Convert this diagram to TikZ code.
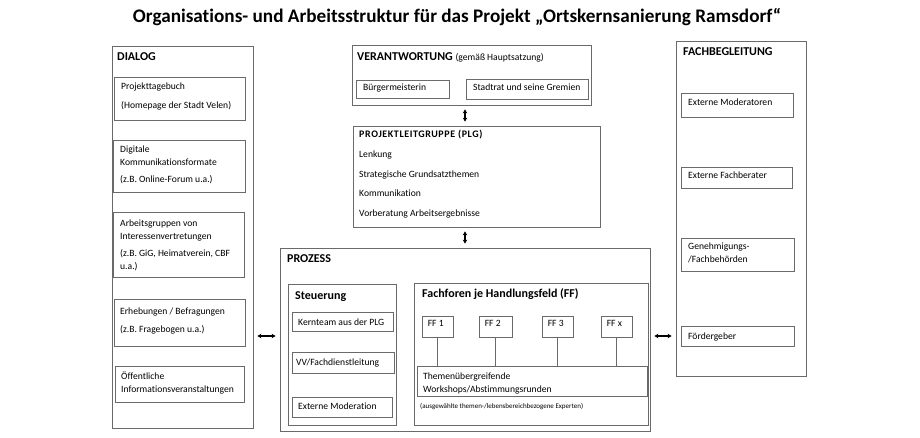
\documentclass[tikz,border=0pt]{standalone}
\usepackage{fontspec}
\setmainfont{Carlito}[Ligatures=NoCommon]
\usetikzlibrary{fit,arrows.meta}

\definecolor{boxgray}{HTML}{6A6A6A}

% mehrzeiliger Text, Grundlinie = erste Zeile
\newcommand{\zeilen}[1]{\begin{tabular}[t]{@{}l@{}}#1\end{tabular}}

\tikzset{
  box/.style={draw=boxgray, line width=0.8pt, inner sep=0pt},
  lbl/.style={anchor=base west, inner sep=0pt, font=\fontsize{9.6}{13}\selectfont},
  head/.style={anchor=base west, inner sep=0pt, font=\fontsize{12}{14}\selectfont\bfseries},
  link/.style={draw=boxgray, line width=0.8pt},
  dbl/.style={{Stealth[length=4pt,width=4.5pt]}-{Stealth[length=4pt,width=4.5pt]}, line width=1.6pt, shorten <=4pt, shorten >=4pt},
}

\begin{document}
\begin{tikzpicture}[x=1pt, y=-1pt]
  \useasboundingbox (0,0) rectangle (920,438);

  % Titel
  \node[font=\fontsize{19.2}{22}\selectfont\bfseries] (titel) at (457,17)
    {Organisations- und Arbeitsstruktur für das Projekt „Ortskernsanierung Ramsdorf“};

  % DIALOG
  \node[box, fit={(112,46) (253,428)}] (dialog) {};
  \node[head] (dialogT) at (117,61) {DIALOG};
  \node[box, fit={(114,77) (245,120)}] (tb) {};
  \node[lbl] (tbT) at (121,90) {\zeilen{Projekttagebuch\\[6pt](Homepage der Stadt Velen)}};
  \node[box, fit={(113,140) (245,192)}] (dk) {};
  \node[lbl] (dkT) at (120,153) {\zeilen{Digitale\\Kommunikationsformate\\[4pt](z.B. Online-Forum u.a.)}};
  \node[box, fit={(113,212) (244,277)}] (ag) {};
  \node[lbl] (agT) at (120,227) {\zeilen{Arbeitsgruppen von\\Interessenvertretungen\\[4pt](z.B. GiG, Heimatverein, CBF\\u.a.)}};
  \node[box, fit={(114,299) (245,346)}] (eb) {};
  \node[lbl] (ebT) at (120,314) {\zeilen{Erhebungen / Befragungen\\[5pt](z.B. Fragebogen u.a.)}};
  \node[box, fit={(115,366) (244,402)}] (oi) {};
  \node[lbl] (oiT) at (121,379) {\zeilen{Öffentliche\\Informationsveranstaltungen}};

  % VERANTWORTUNG
  \node[box, fit={(352,45) (591,105)}] (ver) {};
  \node[head] (verT) at (357,61) {VERANTWORTUNG \fontsize{9.6}{11}\selectfont\mdseries(gemäß Hauptsatzung)};
  \node[box, fit={(356,80) (449,98)}] (bm) {};
  \node[lbl] (bmT) at (363,91) {Bürgermeisterin};
  \node[box, fit={(466,79) (588,99)}] (sr) {};
  \node[lbl] (srT) at (473,91) {Stadtrat und seine Gremien};

  % PROJEKTLEITGRUPPE
  \node[box, fit={(353,126) (600,227)}] (plg) {};
  \node[head, font=\fontsize{10}{12}\selectfont\bfseries\addfontfeatures{LetterSpace=6}] (plgT) at (359,138) {PROJEKTLEITGRUPPE (PLG)};
  \node[lbl] (plgL) at (359,158)
    {\zeilen{Lenkung\\[6.5pt]Strategische Grundsatzthemen\\[6.5pt]Kommunikation\\[6.5pt]Vorberatung Arbeitsergebnisse}};

  % PROZESS
  \node[box, fit={(280,248) (650,431)}] (prz) {};
  \node[head] (przT) at (287,262) {PROZESS};

  % Steuerung
  \node[box, fit={(288,284) (396,425)}] (st) {};
  \node[head] (stT) at (295,299) {Steuerung};
  \node[box, fit={(292,312) (393,331)}] (kt) {};
  \node[lbl] (ktT) at (298,325) {Kernteam aus der PLG};
  \node[box, fit={(292,352) (394,373)}] (vv) {};
  \node[lbl] (vvT) at (296,365) {VV/Fachdienstleitung};
  \node[box, fit={(292,397) (392,417)}] (em) {};
  \node[lbl] (emT) at (298,409) {Externe Moderation};

  % Fachforen
  \node[box, fit={(414,283) (648,425)}] (ff) {};
  \node[head] (ffT) at (422,297) {Fachforen je Handlungsfeld (FF)};
  \node[box, fit={(417,366) (647,396)}] (tw) {};
  \node[lbl] (twT) at (423,379) {\zeilen{Themenübergreifende\\Workshops/Abstimmungsrunden}};
  \node[lbl, font=\fontsize{7}{8}\selectfont] (twN) at (420,408) {(ausgewählte themen-/lebensbereichbezogene Experten)};
  \foreach \n/\t/\xa/\xb in {f1/FF 1/422/453, f2/FF 2/479/512, f3/FF 3/542/573, fx/FF x/601/632} {
    \node[box, fit={(\xa,316) (\xb,337)}] (\n) {};
    \node[lbl] (\n T) at ([xshift=6pt, yshift=-10.5pt]\n.north west) {\t};
    \draw[link] (\n.south) -- (\n.south |- tw.north);
  }

  % FACHBEGLEITUNG
  \node[box, fit={(676,41) (806,376)}] (fb) {};
  \node[head] (fbT) at (683,56) {FACHBEGLEITUNG};
  \node[box, fit={(681,93) (793,117)}] (emo) {};
  \node[lbl] (emoT) at (688,106) {Externe Moderatoren};
  \node[box, fit={(681,167) (792,188)}] (efb) {};
  \node[lbl] (efbT) at (688,179) {Externe Fachberater};
  \node[box, fit={(681,238) (794,271)}] (gb) {};
  \node[lbl] (gbT) at (688,250) {\zeilen{Genehmigungs-\\/Fachbehörden}};
  \node[box, fit={(681,326) (794,346)}] (fg) {};
  \node[lbl] (fgT) at (688,339) {Fördergeber};

  % Pfeile
  \draw[dbl] (ver.south -| prz.north) -- (plg.north -| prz.north);
  \draw[dbl] (plg.south -| prz.north) -- (prz.north);
  \draw[dbl] (dialog.east |- fg) -- (prz.west |- fg);
  \draw[dbl] (prz.east |- fg) -- (fb.west |- fg);
\end{tikzpicture}
\end{document}
